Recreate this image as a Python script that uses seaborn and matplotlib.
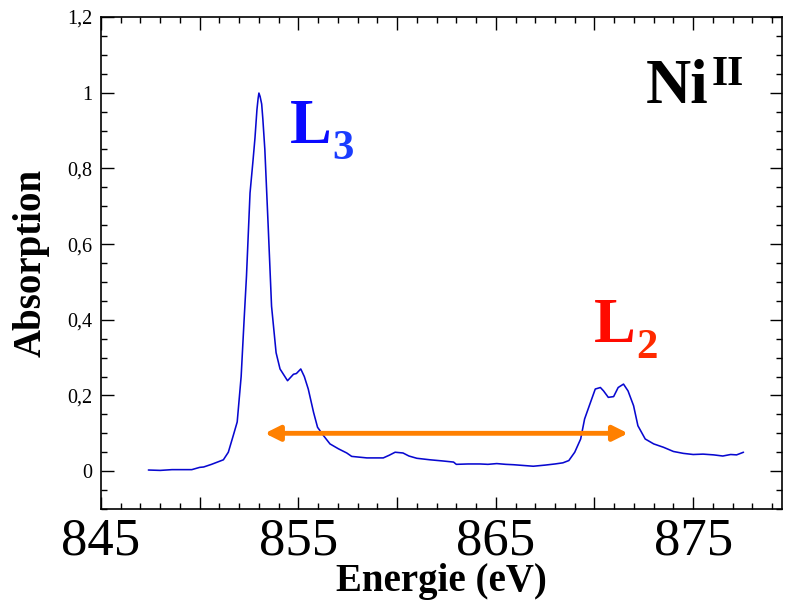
import numpy as np
import pandas as pd
import matplotlib
matplotlib.use("Agg")
import matplotlib.pyplot as plt
from matplotlib.ticker import MultipleLocator, FuncFormatter
import seaborn as sns

# ---- data ----
energy = [847.4, 848.0, 848.6, 849.2, 849.6, 850.0, 850.2, 850.6, 851.2, 851.45, 851.7,
          851.9, 852.1, 852.25, 852.37, 852.55, 852.7, 852.8, 852.9, 852.96, 853.0, 853.06,
          853.14, 853.2, 853.3, 853.47, 853.64, 853.87, 854.07, 854.4, 854.45, 854.75,
          854.9, 855.12, 855.3, 855.5, 855.77, 855.97, 856.27, 856.6, 857.03, 857.45,
          857.7, 858.47, 859.3, 859.6, 859.9, 860.3, 860.6, 861.0, 861.67, 862.3, 862.86,
          863.0, 863.6, 864.2, 864.6, 865.05, 865.5, 865.9, 866.4, 866.9, 867.5, 868.0,
          868.4, 868.7, 869.0, 869.3, 869.5, 869.8, 870.04, 870.3, 870.46, 870.7,
          870.97, 871.2, 871.47, 871.7, 871.98, 872.2, 872.57, 873.0, 873.5, 874.0,
          874.5, 875.0, 875.5, 876.04, 876.5, 876.9, 877.2, 877.55]
absorption = [0.003, 0.002, 0.004, 0.004, 0.004, 0.010, 0.011, 0.018, 0.030, 0.050, 0.094,
              0.130, 0.250, 0.400, 0.515, 0.735, 0.820, 0.880, 0.955, 0.985, 0.999, 0.990,
              0.970, 0.930, 0.850, 0.647, 0.436, 0.313, 0.270, 0.243, 0.239, 0.256,
              0.258, 0.270, 0.250, 0.217, 0.155, 0.116, 0.094, 0.072, 0.059, 0.048,
              0.039, 0.035, 0.035, 0.042, 0.050, 0.048, 0.040, 0.034, 0.030, 0.027, 0.024,
              0.018, 0.019, 0.019, 0.018, 0.020, 0.018, 0.017, 0.015, 0.013, 0.016, 0.019,
              0.022, 0.028, 0.050, 0.085, 0.138, 0.182, 0.217, 0.221, 0.212, 0.195,
              0.197, 0.221, 0.230, 0.212, 0.173, 0.120, 0.085, 0.072, 0.063, 0.052,
              0.047, 0.044, 0.045, 0.043, 0.040, 0.044, 0.043, 0.050]

x_tick_labels = ["845", "855", "865", "875"]
arrow_span = [853.3, 871.7]
arrow_level = 0.1

df = pd.DataFrame({"Energie": energy, "Absorption": absorption})

sns.set_style("ticks")
plt.rcParams["font.family"] = ["Liberation Serif", "DejaVu Serif"]
plt.rcParams["mathtext.fontset"] = "stix"
plt.rcParams["text.color"] = "black"
plt.rcParams["axes.labelcolor"] = "black"
plt.rcParams["xtick.color"] = "black"
plt.rcParams["ytick.color"] = "black"
plt.rcParams["axes.edgecolor"] = "black"

fig = plt.figure(figsize=(7.87, 6.04), dpi=100)
ax = fig.add_axes([101 / 787, 1 - 509 / 604, (782 - 101) / 787, (509 - 17) / 604])

sns.lineplot(data=df, x="Energie", y="Absorption", ax=ax, color="#0808d0",
             linewidth=1.15, sort=False)

ax.set_xlim(845, 879.5)
ax.set_ylim(-0.1, 1.2)

ax.xaxis.set_major_locator(MultipleLocator(5))
ax.xaxis.set_minor_locator(MultipleLocator(1))
ax.yaxis.set_major_locator(MultipleLocator(0.2))
ax.yaxis.set_minor_locator(MultipleLocator(0.05))


def xfmt(v, pos):
    s = "%d" % round(v)
    return s if s in x_tick_labels else ""


def yfmt(v, pos):
    if v < -0.01:
        return ""
    s = ("%.1f" % v).replace(".", ",")
    if s.endswith(",0"):
        s = s[:-2]
    return s


ax.xaxis.set_major_formatter(FuncFormatter(xfmt))
ax.yaxis.set_major_formatter(FuncFormatter(yfmt))

ax.tick_params(which="both", direction="in", top=True, right=True, width=1.0,
               color="black", labelcolor="black")
ax.tick_params(which="major", length=9)
ax.tick_params(which="minor", length=4.5)
ax.tick_params(axis="x", which="major", labelsize=38, pad=6)
ax.tick_params(axis="y", which="major", labelsize=14.5, pad=6)
for sp in ax.spines.values():
    sp.set_linewidth(1.2)
    sp.set_visible(True)
    sp.set_color("black")

ax.set_xlabel("Energie (eV)", fontsize=28, fontweight="bold", labelpad=-2, color="black")
ax.set_ylabel("Absorption", fontsize=28, fontweight="bold", labelpad=13, color="black")

# arrow
ax.annotate("", xy=(arrow_span[1], arrow_level), xytext=(arrow_span[0], arrow_level),
            arrowprops=dict(arrowstyle="<|-|>", color="#FF8000", lw=3.5,
                            mutation_scale=22, shrinkA=0, shrinkB=0))

# labels
ax.text(872.6, 0.973, "Ni", fontsize=45, fontweight="bold", color="black", va="baseline")
ax.text(875.95, 1.02, "II", fontsize=30, fontweight="bold", color="black", va="baseline")
ax.text(854.55, 0.867, "L", fontsize=45, fontweight="bold", color="#0a0aff", va="baseline")
ax.text(856.7, 0.825, "3", fontsize=31, fontweight="bold", color="#1a3cff", va="baseline")
ax.text(869.95, 0.34, "L", fontsize=45, fontweight="bold", color="#ff0a00", va="baseline")
ax.text(872.1, 0.2985, "2", fontsize=31, fontweight="bold", color="#ff2a00", va="baseline")

fig.savefig("out.png", dpi=100)
